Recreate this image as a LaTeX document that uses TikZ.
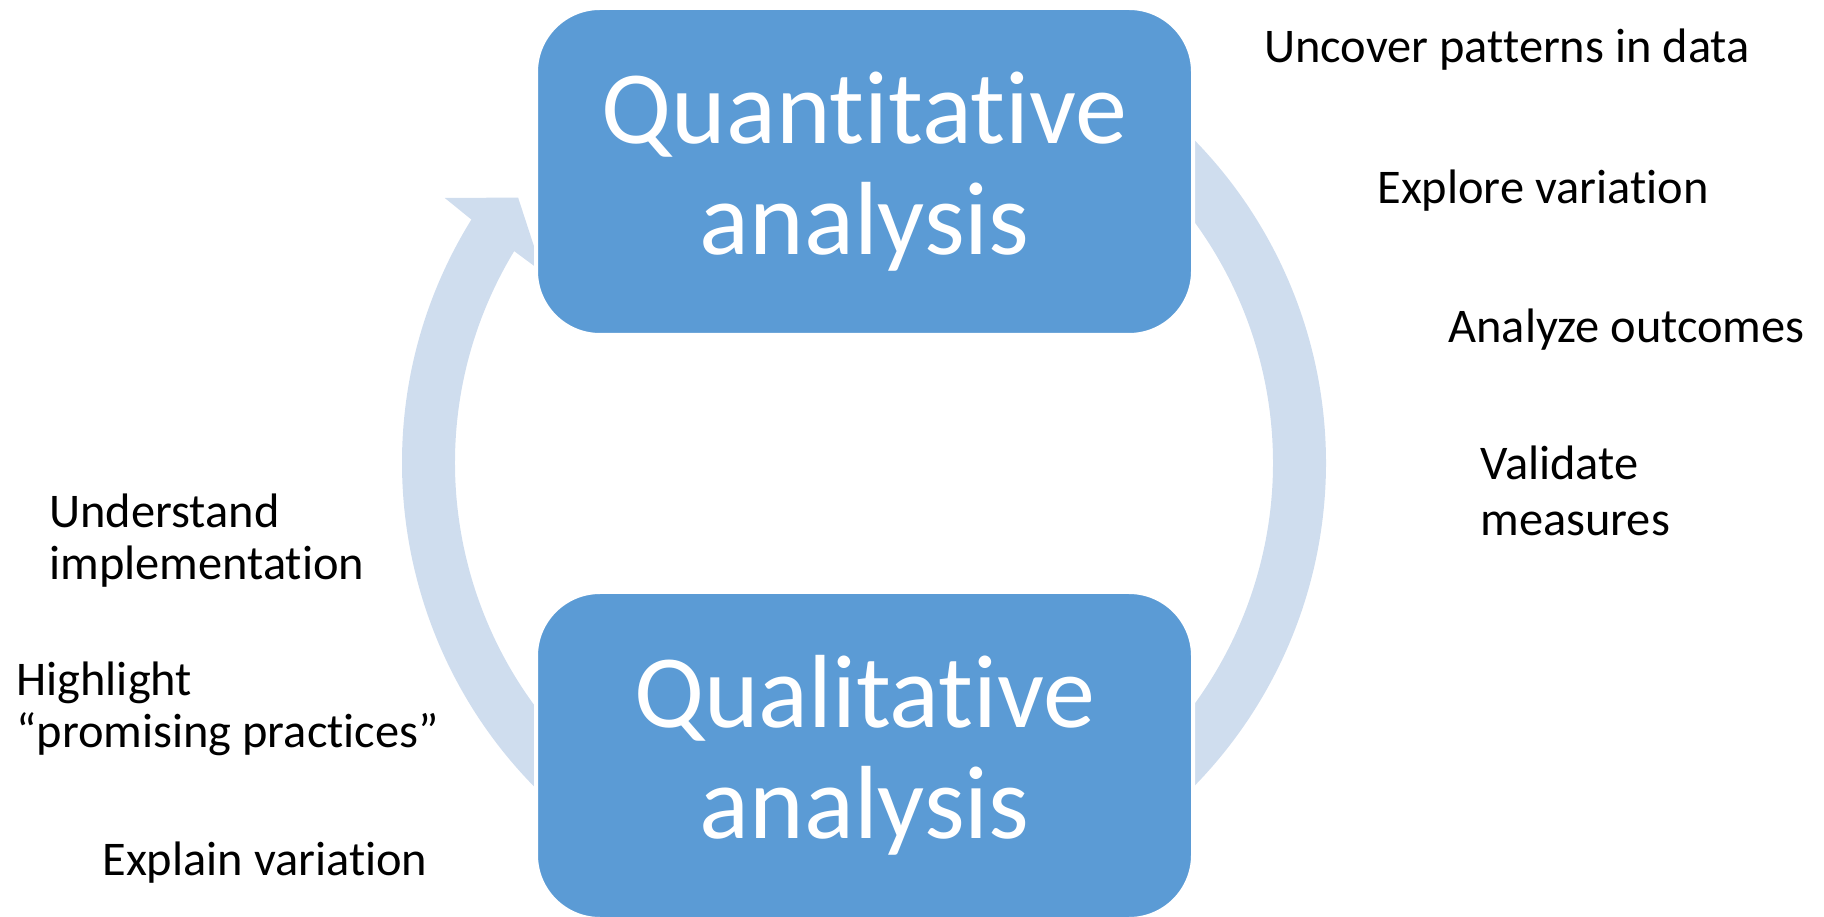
\documentclass[tikz,border=0pt]{standalone}
\usepackage{fontspec}
\setmainfont{Carlito}[Ligatures={NoCommon}]

\definecolor{boxBlue}{HTML}{5B9BD5}
\definecolor{ringBlue}{HTML}{CFDDEE}

\tikzset{
  stage/.style={draw=white,line width=2pt,fill=boxBlue,rounded corners=32pt,
    minimum width=328.5pt,minimum height=163.5pt,inner sep=0pt,
    text=white,align=center,font=\fontsize{52}{55.3}\selectfont},
  note/.style={anchor=base west,align=left,inner sep=0pt,
    font=\fontsize{24.2}{28}\selectfont},
  tightnote/.style={note,font=\fontsize{24.2}{26}\selectfont},
  ring/.style={fill=ringBlue}
}

\begin{document}
\begin{tikzpicture}[x=0.5pt,y=0.5pt]
    \useasboundingbox (0,0) rectangle (1824,916);
    \coordinate (hub) at (864,453);

    % cycle arrows behind the boxes
    \fill[ring] ([shift={(235:462)}]hub) arc[start angle=235,end angle=148.2,radius=462]
        -- ([shift={(147.7:496)}]hub) -- ([shift={(142.5:436)}]hub)
        -- ([shift={(149.3:374)}]hub) -- ([shift={(148.8:409)}]hub)
        arc[start angle=148.8,end angle=235,radius=409] -- cycle;
    \fill[ring] ([shift={(55:462)}]hub) arc[start angle=55,end angle=-55,radius=462]
        -- ([shift={(-55:409)}]hub) arc[start angle=-55,end angle=55,radius=409] -- cycle;

    \node[stage] (quant) at (864.5,744.5) {Quantitative\\analysis};
    \node[stage] (qual) at (864.5,160.5) {Qualitative\\analysis};

    % notes, quantitative side
    \node[note] (uncover) at (1264,853) {Uncover patterns in data};
    \node[note] (explore) at (1377,712) {Explore variation};
    \node[note] (analyze) at (1448,573) {Analyze outcomes};
    \node[note] (validate) at (1480,380) {Validate\\measures};

    % notes, qualitative side
    \node[tightnote] (understand) at (49,336) {Understand\\implementation};
    \node[tightnote] (highlight) at (16,169) {Highlight\\“promising practices”};
    \node[note] (explain) at (102,41) {Explain variation};
\end{tikzpicture}
\end{document}
